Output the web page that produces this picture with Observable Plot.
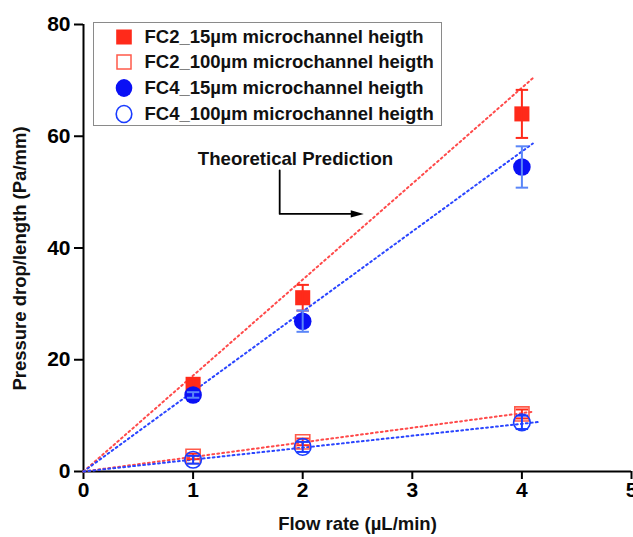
<!DOCTYPE html>
<html>
<head>
<meta charset="utf-8">
<script src="https://cdn.jsdelivr.net/npm/d3@7"></script>
<script src="https://cdn.jsdelivr.net/npm/@observablehq/plot@0.6"></script>
<style>
  body { margin: 0; background: #fff; }
  #wrap { position: relative; width: 633px; height: 537px; font-family: "Liberation Sans", Arial, sans-serif; }
  #legend { position: absolute; left: 93px; top: 22px; width: 347px; height: 102px; border: 1.5px solid #8a8a8a; background: #fff; }
  .row { position: absolute; left: 0; height: 24px; display: flex; align-items: center; font-weight: bold; font-size: 18.5px; color: #111; white-space: nowrap; }
  .row svg { margin-left: 19.5px; margin-right: 11px; flex: none; }
</style>
</head>
<body>
<div id="wrap"><div id="chart"></div><div id="legend"></div></div>
<script>
// ---- data ----
const flowRates = [1, 2, 4];
const seriesNames = ["FC2_15µm microchannel heigth", "FC2_100µm microchannel heigth", "FC4_15µm microchannel heigth", "FC4_100µm microchannel heigth"];
const fc2_15 = [15.6, 31.1, 64.0];
const fc2_15Err = [0.9, 2.3, 4.3];
const fc2_100 = [2.7, 5.3, 10.3];
const fc2_100Err = [0.5, 0.6, 0.8];
const fc4_15 = [13.7, 26.9, 54.5];
const fc4_15Err = [0.5, 1.9, 3.7];
const fc4_100 = [2.1, 4.4, 8.8];
const fc4_100Err = [0.7, 0.9, 1.2];

// theoretical prediction lines (start, end)
const theoryFC2_15 = {x: [0, 4.1], y: [0, 70.4]};
const theoryFC4_15 = {x: [0, 4.1], y: [0, 58.7]};
const theoryFC2_100 = {x: [0, 4.1], y: [0, 10.7]};
const theoryFC4_100 = {x: [0, 4.17], y: [0, 8.9]};

const xTicks = [0, 1, 2, 3, 4, 5];
const yTicks = [0, 20, 40, 60, 80];
const xLabel = "Flow rate (µL/min)";
const yLabel = "Pressure drop/length (Pa/mm)";

// annotation
const noteText = "Theoretical Prediction";
const notePos = {x: 1.934, y: 55.84};
const notePath = {x: [1.79, 1.79, 2.45], y: [53.9, 46.1, 46.1]};
const noteHead = {x: 2.557, y: 46.1};

// ---- build ----
const red = "#ff2a1a", redLine = "#ff4a4a", redOpen = "#ff5a4a";
const blue = "#0a10f5", blueLine = "#2a45ff", blueOpen = "#1a3cff", blueErr = "#5a86f8";

const styles = [
  {vals: fc2_15, err: fc2_15Err, symbol: "square", fill: red, stroke: "none", r: 8.5, errColor: red},
  {vals: fc2_100, err: fc2_100Err, symbol: "square", fill: "none", stroke: redOpen, r: 8.0, errColor: red},
  {vals: fc4_15, err: fc4_15Err, symbol: "circle", fill: blue, stroke: "none", r: 8.8, errColor: blueErr},
  {vals: fc4_100, err: fc4_100Err, symbol: "circle", fill: "none", stroke: blueOpen, r: 8.3, errColor: blueOpen}
];
const theories = [[theoryFC2_15, redLine], [theoryFC4_15, blueLine], [theoryFC2_100, redLine], [theoryFC4_100, blueLine]];

const capSymbol = {draw(ctx, size) { const w = Math.sqrt(size) / 2; ctx.moveTo(-w, 0); ctx.lineTo(w, 0); }};
const headSymbol = {draw(ctx) { ctx.moveTo(0, 0); ctx.lineTo(-13, -3.6); ctx.lineTo(-13, 3.6); ctx.closePath(); }};

const marks = [];
// axes
marks.push(Plot.axisX(xTicks, {tickSize: 8, tickPadding: 3, fontSize: 21, fontWeight: "bold", label: null, strokeWidth: 2, fill: "#000"}));
marks.push(Plot.axisY(yTicks, {tickSize: 9, tickPadding: 4, fontSize: 21, fontWeight: "bold", label: null, strokeWidth: 2, fill: "#000"}));
marks.push(Plot.ruleY([0], {stroke: "#000", strokeWidth: 2}));
marks.push(Plot.ruleX([0], {stroke: "#000", strokeWidth: 2}));

// theory lines
for (const [t, c] of theories) {
  const pts = t.x.map((x, i) => ({x, y: t.y[i]}));
  marks.push(Plot.line(pts, {x: "x", y: "y", stroke: c, strokeWidth: 2, strokeDasharray: "1.8,3.2"}));
}

// data: markers, error bars
for (const s of styles) {
  const data = flowRates.map((x, i) => ({x, y: s.vals[i], lo: s.vals[i] - s.err[i], hi: s.vals[i] + s.err[i]}));
  marks.push(Plot.dot(data, {x: "x", y: "y", symbol: s.symbol, r: s.r, fill: s.fill, stroke: s.stroke, strokeWidth: 1.6}));
  marks.push(Plot.link(data, {x1: "x", x2: "x", y1: "lo", y2: "hi", stroke: s.errColor, strokeWidth: 2}));
  marks.push(Plot.dot(data, {x: "x", y: "hi", symbol: capSymbol, r: 7, stroke: s.errColor, strokeWidth: 2}));
  marks.push(Plot.dot(data, {x: "x", y: "lo", symbol: capSymbol, r: 7, stroke: s.errColor, strokeWidth: 2}));
}

// annotation
marks.push(Plot.text([noteText], {x: notePos.x, y: notePos.y, fontSize: 18.6, fontWeight: "bold", fill: "#111"}));
marks.push(Plot.line(notePath.x.map((x, i) => ({x, y: notePath.y[i]})), {x: "x", y: "y", stroke: "#000", strokeWidth: 1.8}));
marks.push(Plot.dot([noteHead], {x: "x", y: "y", symbol: headSymbol, fill: "#000", stroke: "none"}));

// axis labels
marks.push(Plot.text([yLabel], {frameAnchor: "left", textAnchor: "middle", lineAnchor: "middle", dx: -63, dy: 10.5, rotate: -90, fontSize: 18.5, fontWeight: "bold", fill: "#111"}));
marks.push(Plot.text([xLabel], {frameAnchor: "bottom", textAnchor: "middle", lineAnchor: "middle", dx: 0, dy: 52.6, fontSize: 18.5, fontWeight: "bold", fill: "#111"}));

const chart = Plot.plot({
  width: 633, height: 537,
  marginLeft: 83, marginRight: 2, marginTop: 24, marginBottom: 66,
  style: {fontFamily: "'Liberation Sans', Arial, sans-serif", background: "#fff", color: "#000"},
  x: {domain: [0, 5]},
  y: {domain: [0, 80]},
  marks
});
document.getElementById("chart").appendChild(chart);

// legend (HTML overlay)
const legend = document.getElementById("legend");
const rowTops = [1.8, 27.2, 52.8, 78.5];
styles.forEach((s, i) => {
  const row = document.createElement("div");
  row.className = "row";
  row.style.top = rowTops[i] + "px";
  const sym = s.symbol === "square"
    ? (s.fill !== "none"
        ? `<rect x="2.2" y="2.5" width="15.6" height="15" fill="${s.fill}"/>`
        : `<rect x="3" y="3" width="14" height="14" fill="none" stroke="${s.stroke}" stroke-width="1.5"/>`)
    : (s.fill !== "none"
        ? `<ellipse cx="10" cy="10" rx="8.3" ry="9" fill="${s.fill}"/>`
        : `<ellipse cx="10" cy="10" rx="7.8" ry="8.5" fill="none" stroke="${s.stroke}" stroke-width="1.6"/>`);
  row.innerHTML = `<svg width="20" height="20">${sym}</svg><span>${seriesNames[i]}</span>`;
  legend.appendChild(row);
});
</script>
</body>
</html>
